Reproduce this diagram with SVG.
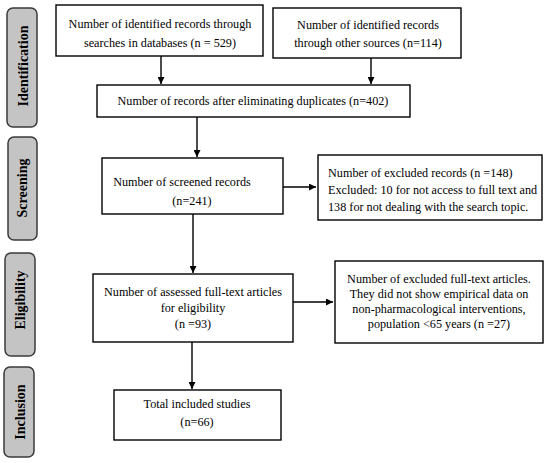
<svg xmlns="http://www.w3.org/2000/svg" width="550" height="463" viewBox="0 0 550 463">
<defs>
<style>
.box{fill:#fff;stroke:#000;stroke-width:1.4}
.side{fill:#c4c4c4;stroke:#3a3a3a;stroke-width:1.5}
.t{font-family:"Liberation Serif","Times New Roman",serif;font-size:12.2px;fill:#000;text-anchor:middle}
.tl{font-family:"Liberation Serif","Times New Roman",serif;font-size:12.2px;fill:#000}
.s{font-family:"Liberation Serif","Times New Roman",serif;font-size:14px;font-weight:bold;fill:#000;text-anchor:middle}
.c{stroke:#000;stroke-width:1.4;fill:none}
</style>
<marker id="ah" viewBox="0 0 10 10" refX="10" refY="5" markerWidth="7" markerHeight="7" markerUnits="userSpaceOnUse" orient="auto"><path d="M0,0 L10,5 L0,10 z" fill="#000"/></marker>
</defs>
<rect width="550" height="463" fill="#fff"/>
<g id="stage-identification"><rect class="side" x="7" y="8" width="30" height="119" rx="6"/><text class="s" transform="translate(28,66) rotate(-90)">Identification</text></g>
<g id="stage-screening"><rect class="side" x="8" y="137" width="29" height="103" rx="6"/><text class="s" transform="translate(27,188) rotate(-90)">Screening</text></g>
<g id="stage-eligibility"><rect class="side" x="5" y="253" width="30" height="103" rx="6"/><text class="s" transform="translate(25,300) rotate(-90)">Eligibility</text></g>
<g id="stage-inclusion"><rect class="side" x="4" y="367" width="30" height="90" rx="6"/><text class="s" transform="translate(25,412) rotate(-90)">Inclusion</text></g>
<g id="box-databases"><rect class="box" x="56" y="5" width="207" height="51"/><text class="t" x="160" y="28">Number of identified records through</text><text class="t" x="160" y="47">searches in databases (n = 529)</text></g>
<g id="box-other"><rect class="box" x="273" y="8" width="188" height="50"/><text class="t" x="368" y="29">Number of identified records</text><text class="t" x="368" y="47">through other sources (n=114)</text></g>
<g id="box-duplicates"><rect class="box" x="97" y="85" width="313" height="32"/><text class="t" x="253" y="105">Number of records after eliminating duplicates (n=402)</text></g>
<g id="box-screened"><rect class="box" x="102" y="158" width="181" height="56"/><text class="t" x="182" y="186">Number of screened records</text><text class="t" x="192" y="205">(n=241)</text></g>
<g id="box-excluded-records"><rect class="box" x="318" y="155" width="224" height="65"/><text class="tl" x="328" y="177">Number of excluded records (n =148)</text><text class="tl" x="328" y="194">Excluded: 10 for not access to full text and</text><text class="tl" x="328" y="211">138 for not dealing with the search topic.</text></g>
<g id="box-assessed"><rect class="box" x="93" y="274" width="200" height="68"/><text class="t" x="193" y="296">Number of assessed full-text articles</text><text class="t" x="193" y="312">for eligibility</text><text class="t" x="193" y="328">(n =93)</text></g>
<g id="box-excluded-articles"><rect class="box" x="335" y="261" width="208" height="82"/><text class="t" x="439" y="283">Number of excluded full-text articles.</text><text class="t" x="439" y="298">They did not show empirical data on</text><text class="t" x="439" y="313">non-pharmacological interventions,</text><text class="t" x="439" y="328">population &lt;65 years (n =27)</text></g>
<g id="box-included"><rect class="box" x="114" y="390" width="167" height="50"/><text class="t" x="197" y="408">Total included studies</text><text class="t" x="197" y="426">(n=66)</text></g>
<g id="connectors">
<line class="c" x1="161" y1="56" x2="161" y2="84" marker-end="url(#ah)"/>
<line class="c" x1="371" y1="58" x2="371" y2="84" marker-end="url(#ah)"/>
<line class="c" x1="197" y1="117" x2="197" y2="157" marker-end="url(#ah)"/>
<line class="c" x1="283" y1="187" x2="316" y2="187" marker-end="url(#ah)"/>
<line class="c" x1="193" y1="214" x2="193" y2="273" marker-end="url(#ah)"/>
<line class="c" x1="293" y1="302" x2="333" y2="302" marker-end="url(#ah)"/>
<line class="c" x1="192" y1="342" x2="192" y2="389" marker-end="url(#ah)"/>
</g>
</svg>
